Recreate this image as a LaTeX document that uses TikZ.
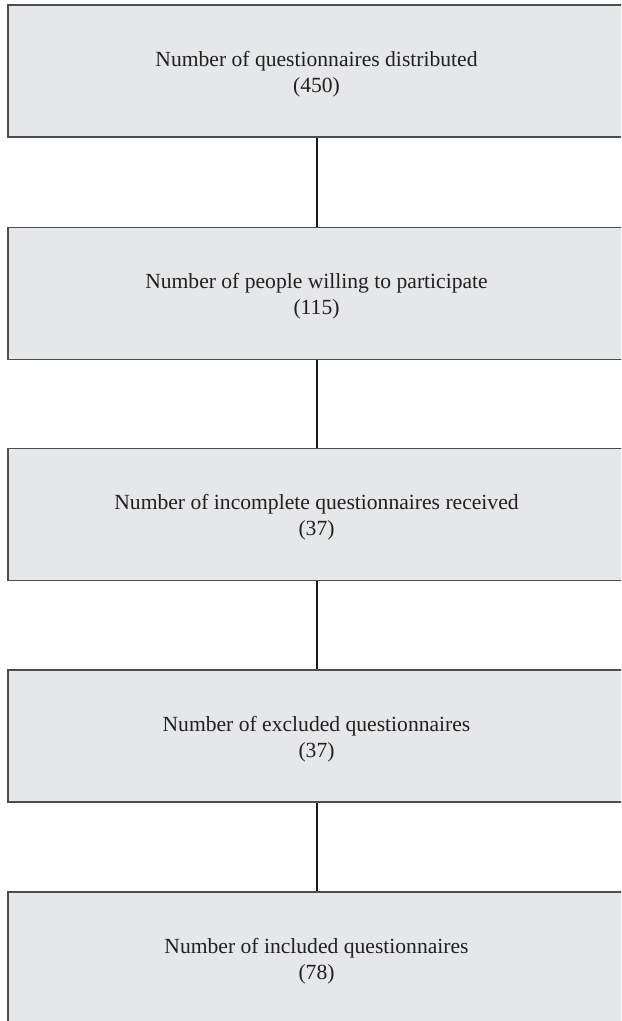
\documentclass[tikz,border=0pt]{standalone}
\usepackage{fontspec}
\setmainfont{Liberation Serif}
\definecolor{boxfill}{HTML}{E6E7E8}
\definecolor{boxline}{HTML}{4D4D4F}
\definecolor{txt}{HTML}{231F20}
\tikzset{
  flowbox/.style={rectangle, draw=boxline, fill=boxfill, line width=0.85pt,
    minimum width=308.5pt, minimum height=66pt, inner sep=0pt,
    align=center, text=txt, font=\fontsize{10.8}{13}\selectfont},
  link/.style={draw=black!90, line width=1pt},
  tlabel/.style={yshift=-1.5pt}
}
\begin{document}
\begin{tikzpicture}[x=0.5pt,y=-0.5pt]
\useasboundingbox (0,0) rectangle (621,1021);
\clip (0,0) rectangle (621,1021);
\node[flowbox] (b1) at (316.5,71) {};
\node[flowbox] (b2) at (316.5,293.5) {};
\node[flowbox] (b3) at (316.5,514.5) {};
\node[flowbox] (b4) at (316.5,736) {};
\node[flowbox] (b5) at (316.5,958) {};
\node[flowbox, draw=none, fill=none, minimum width=0pt, minimum height=0pt, tlabel] (t1) at (b1) {Number of questionnaires distributed\\(450)};
\node[flowbox, draw=none, fill=none, minimum width=0pt, minimum height=0pt, tlabel] (t2) at (b2) {Number of people willing to participate\\(115)};
\node[flowbox, draw=none, fill=none, minimum width=0pt, minimum height=0pt, tlabel] (t3) at (b3) {Number of incomplete questionnaires received\\(37)};
\node[flowbox, draw=none, fill=none, minimum width=0pt, minimum height=0pt, tlabel] (t4) at (b4) {Number of excluded questionnaires\\(37)};
\node[flowbox, draw=none, fill=none, minimum width=0pt, minimum height=0pt, tlabel] (t5) at (b5) {Number of included questionnaires\\(78)};
\draw[link] (b1.south) -- (b2.north);
\draw[link] (b2.south) -- (b3.north);
\draw[link] (b3.south) -- (b4.north);
\draw[link] (b4.south) -- (b5.north);
\end{tikzpicture}
\end{document}
